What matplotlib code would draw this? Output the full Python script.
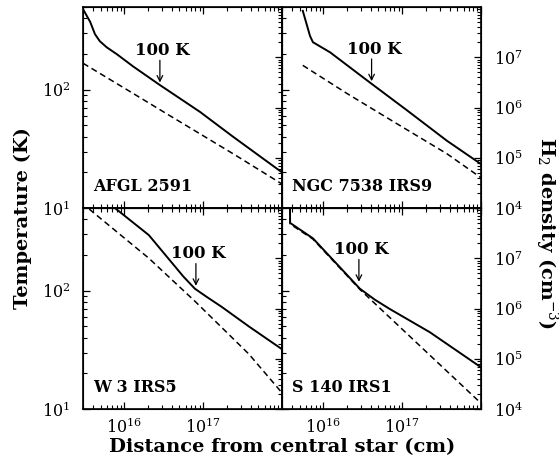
import math

import matplotlib
matplotlib.use("Agg")
import matplotlib.pyplot as plt
from matplotlib.ticker import FixedLocator, FuncFormatter, LogLocator, NullFormatter

plt.rcParams["font.family"] = "DejaVu Serif"
plt.rcParams["mathtext.fontset"] = "dejavuserif"

# source names, order: top-left, top-right, bottom-left, bottom-right
names = ["AFGL 2591", "NGC 7538 IRS9", "W 3 IRS5", "S 140 IRS1"]

# temperature profiles (solid): radius in cm, T in K
r_temp = [
    [3.0e15, 3.7e15, 4.25e15, 4.9e15, 6.0e15, 8.1e15, 1.3e16, 2.8e16, 9.1e16, 2.4e17, 1.0e18],
    [5.5e15, 6.8e15, 7.4e15, 1.22e16, 3.9e16, 1.15e17, 3.7e17, 1.0e18],
    [7.6e15, 2.05e16, 5.6e16, 7.85e16, 1.1e17, 1.72e17, 3.78e17, 1.0e18],
    [3.78e15, 3.8e15, 7.4e15, 2.91e16, 4.5e16, 6.98e16, 2.24e17, 1.0e18],
]
T_temp = [
    [480, 374, 295, 257, 228, 199, 157, 110, 65, 40, 20],
    [464, 284, 252, 207, 115, 67, 37, 23.5],
    [500, 295, 132, 104, 89, 73, 50, 32],
    [500, 374, 277, 104, 84, 70, 44.6, 22.5],
]

# H2 density profiles (dashed): radius in cm, n in cm^-3
r_dens = [
    [3.0e15, 1.3e16, 3.5e16, 9.1e16, 2.4e17, 1.0e18],
    [5.5e15, 2.0e16, 8.5e16, 3.7e17, 1.0e18],
    [3.6e15, 2.05e16, 7.85e16, 3.78e17, 1.0e18],
    [3.78e15, 3.8e15, 7.4e15, 2.91e16, 1.0e18],
]
n_dens = [
    [7.6e6, 1.9e6, 7.4e5, 3.0e5, 1.2e5, 3.0e4],
    [6.9e6, 1.9e6, 4.8e5, 1.2e5, 4.0e4],
    [9.5e7, 1.0e7, 1.4e6, 1.25e5, 2.1e4],
    [1.0e8, 4.8e7, 2.4e7, 2.4e6, 1.3e4],
]

# where the 100 K arrow points (radius, temperature at tip)
r_100K = [2.83e16, 4.1e16, 8.1e16, 2.83e16]
T_100K = [115, 118, 110, 119]


def pow_fmt(limit):
    def fmt(v, pos):
        if v > limit:
            return ""
        return r"$10^{%d}$" % round(math.log10(v))
    return FuncFormatter(fmt)


fig, axes = plt.subplots(2, 2, figsize=(5.59, 4.67), dpi=100, sharex=True, sharey=True)
fig.subplots_adjust(left=0.1485, right=0.8605, bottom=0.1242, top=0.985, wspace=0, hspace=0)

for i, ax in enumerate(axes.flat):
    row, col = divmod(i, 2)
    ax.set_xscale("log")
    ax.set_yscale("log")
    ax.plot(r_temp[i], T_temp[i], color="black", lw=1.4)
    ax.set_xlim(3e15, 1e18)
    ax.set_ylim(10, 500)
    ax.tick_params(which="both", direction="in", top=True, right=False, labelsize=11.5)
    ax.tick_params(which="major", length=5, width=0.9)
    ax.tick_params(which="minor", length=3, width=0.8)
    ax.tick_params(axis="y", pad=9)
    ax.tick_params(axis="x", pad=6)
    ax.xaxis.set_major_locator(FixedLocator([1e16, 1e17, 1e18]))
    ax.xaxis.set_major_formatter(pow_fmt(5e17))
    ax.xaxis.set_minor_locator(LogLocator(base=10, subs=range(2, 10), numticks=20))
    ax.xaxis.set_minor_formatter(NullFormatter())
    ax.yaxis.set_minor_formatter(NullFormatter())
    for sp in ax.spines.values():
        sp.set_linewidth(1.2)
    if row == 0:
        ax.tick_params(labelbottom=False)
    if col == 1:
        ax.tick_params(labelleft=False)

    tw = ax.twinx()
    tw.set_yscale("log")
    tw.plot(r_dens[i], n_dens[i], color="black", lw=1.1, ls=(0, (4, 2.5)))
    tw.set_ylim(1e4, 1e8)
    tw.yaxis.set_major_locator(FixedLocator([1e4, 1e5, 1e6, 1e7, 1e8]))
    tw.yaxis.set_minor_locator(LogLocator(base=10, subs=range(2, 10), numticks=20))
    tw.yaxis.set_major_formatter(pow_fmt(5e7))
    tw.yaxis.set_minor_formatter(NullFormatter())
    tw.tick_params(which="both", direction="in", left=False, labelsize=11.5, pad=9)
    tw.tick_params(which="major", length=5, width=0.9)
    tw.tick_params(which="minor", length=3, width=0.8)
    if col == 0:
        tw.tick_params(labelright=False)

    ax.text(0.05, 0.085, names[i], transform=ax.transAxes, fontsize=11.5,
            fontweight="bold", va="baseline", ha="left")
    ax.annotate("", xy=(r_100K[i], T_100K[i]), xytext=(0, 16), textcoords="offset points",
                arrowprops=dict(arrowstyle="->", color="black", lw=0.9, shrinkA=0, shrinkB=0))
    ax.annotate("100 K", xy=(r_100K[i], T_100K[i]), xytext=(2, 17), textcoords="offset points",
                ha="center", va="bottom", fontsize=12, fontweight="bold")

fig.text(0.505, 0.043, "Distance from central star (cm)", ha="center", va="center",
         fontsize=14, fontweight="bold")
fig.text(0.041, 0.533, "Temperature (K)", ha="center", va="center", rotation=90,
         fontsize=14, fontweight="bold")
fig.text(0.978, 0.50, r"H$_2$ density (cm$^{-3}$)", ha="center", va="center", rotation=-90,
         fontsize=14, fontweight="bold")

fig.savefig("out.png", dpi=100)
